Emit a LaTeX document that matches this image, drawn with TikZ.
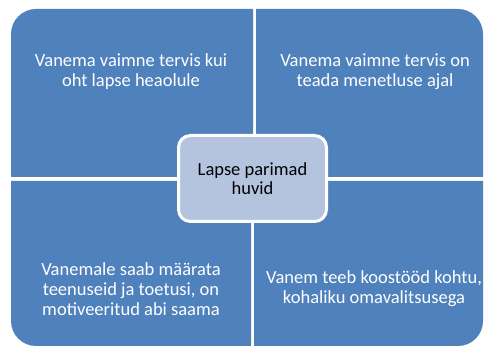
\documentclass[tikz,border=0pt]{standalone}
\usepackage{fontspec}
\setmainfont{Carlito}
\usetikzlibrary{positioning}
\definecolor{quadblue}{HTML}{4F81BD}
\definecolor{hubblue}{HTML}{B4C4DF}

\begin{document}
\begin{tikzpicture}[
  x=1pt, y=1pt,
  quad/.style={fill=quadblue},
  label/.style={align=center, text=white, font=\fontsize{18.5}{20}\selectfont, inner sep=0pt},
  hub/.style={draw=white, line width=3pt, fill=hubblue, rounded corners=12pt,
    minimum width=148pt, minimum height=86pt, align=center,
    font=\fontsize{18.5}{19}\selectfont}
]
\useasboundingbox (0,0) rectangle (484,347);

% quadrants
\fill[quad] (253,170) -- (11,170) -- (11,313) arc[start angle=180, end angle=90, radius=25] -- (253,338) -- cycle;
\fill[quad] (256,170) -- (256,338) -- (458,338) arc[start angle=90, end angle=0, radius=25] -- (483,170) -- cycle;
\fill[quad] (251,166) -- (11,166) -- (11,26) arc[start angle=180, end angle=270, radius=25] -- (251,1) -- cycle;
\fill[quad] (254,166) -- (483,166) -- (483,26) arc[start angle=0, end angle=-90, radius=25] -- (254,1) -- cycle;

% texts
\node[label] (risk) at (131,275) {Vanema vaimne tervis kui\\oht lapse heaolule};
\node[label] (known) at (375,275) {Vanema vaimne tervis on\\teada menetluse ajal};
\node[label] (help) at (131,58) {Vanemale saab määrata\\teenuseid ja toetusi, on\\motiveeritud abi saama};
\node[label] (coop) at (374,58) {Vanem teeb koostööd kohtu,\\kohaliku omavalitsusega};

% centre
\node[hub] (child) at (252.5,168.5) {Lapse parimad\\huvid};

\end{tikzpicture}
\end{document}
